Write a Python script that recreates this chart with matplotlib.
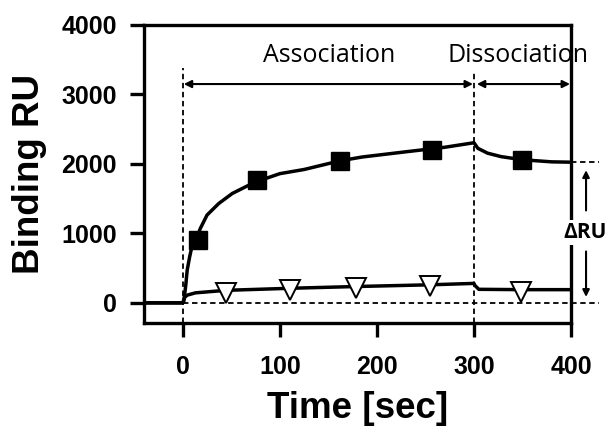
import matplotlib.pyplot as plt

# sensorgram traces (time in s, response in RU)
t_high = [-40, 0, 1, 3, 4.5, 7, 10, 15, 18, 25, 37, 51, 66, 77, 100, 125, 162, 185,
          230, 270, 300, 304, 314, 328, 350, 380, 400]
ru_high = [0, 0, 20, 250, 470, 660, 850, 960, 1070, 1265, 1430, 1575, 1680, 1750,
           1860, 1920, 2045, 2100, 2175, 2240, 2305, 2225, 2155, 2105, 2060, 2030, 2025]

t_low = [-40, 0, 1, 2, 4.5, 13, 44, 111, 178, 255, 300, 301, 305, 350, 400]
ru_low = [0, 0, 50, 80, 111, 144, 180, 210, 235, 260, 280, 250, 195, 190, 190]

# symbols placed on the traces
t_sq = [15.5, 76, 162, 257, 350]
ru_sq = [905, 1770, 2046, 2195, 2060]
t_tri = [45, 110, 178, 255, 348]
ru_tri = [145, 180, 215, 245, 150]

t_inject = 0
t_stop = 300
t_end = 400
ru_final = 2025

fig = plt.figure(figsize=(6.09, 4.34), dpi=100)
ax = fig.add_axes([144 / 609, 111 / 434, 427 / 609, 298 / 434])

bold = dict(family='Liberation Sans', weight='bold')
thin = dict(family='Open Sans')

ax.plot(t_high, ru_high, color='black', lw=2.5, zorder=4)
ax.plot(t_low, ru_low, color='black', lw=2.5, zorder=4)
ax.plot(t_sq, ru_sq, 's', color='black', ms=13.5, zorder=5)
ax.plot(t_tri, ru_tri, 'v', mfc='white', mec='black', mew=1.4, ms=15, zorder=5)

# injection / end markers and baselines
for tx, top in [(t_inject, 3380), (t_stop, 3340)]:
    ax.plot([tx, tx], [-290, top], color='black', lw=1.3, dashes=(3, 2), zorder=3)
ax.plot([0, 429], [0, 0], color='black', lw=1.3, dashes=(3, 2), clip_on=False, zorder=3)
ax.plot([t_end, 429], [ru_final, ru_final], color='black', lw=1.3, dashes=(3, 2),
        clip_on=False, zorder=3)

# phase arrows
arr = dict(arrowstyle='<|-|>', color='black', lw=1.5, mutation_scale=11,
           shrinkA=0, shrinkB=0)
ax.annotate('', xy=(t_inject + 1, 3150), xytext=(t_stop - 1, 3150), arrowprops=arr)
ax.annotate('', xy=(t_stop + 3, 3150), xytext=(t_end - 1, 3150), arrowprops=arr)
ax.text(151, 3560, 'Association', ha='center', va='center', fontsize=18, **thin)
ax.text(345, 3560, 'Dissociation', ha='center', va='center', fontsize=18, **thin)

# response difference at the end of dissociation
one = dict(arrowstyle='-|>', color='black', lw=1.5, mutation_scale=10,
           shrinkA=0, shrinkB=0)
ax.annotate('', xy=(415.5, 1910), xytext=(415.5, 1330), arrowprops=one,
            annotation_clip=False)
ax.annotate('', xy=(415.5, 85), xytext=(415.5, 740), arrowprops=one,
            annotation_clip=False)
ax.text(414.5, 1010, 'ΔRU', ha='center', va='center', fontsize=15, clip_on=False,
        family='Open Sans', weight='bold', zorder=6,
        bbox=dict(facecolor='white', edgecolor='none', pad=1.5))

ax.set_xlim(-40, 400)
ax.set_ylim(-290, 4000)
ax.set_xticks([0, 100, 200, 300, 400])
ax.set_yticks([0, 1000, 2000, 3000, 4000])
ax.tick_params(direction='out', length=10, width=2.4, labelsize=18)
ax.tick_params(axis='x', pad=13)
ax.tick_params(axis='y', pad=9.5)
for lab in ax.get_xticklabels() + ax.get_yticklabels():
    lab.set_fontfamily('Liberation Sans')
    lab.set_fontweight('bold')
for s in ax.spines.values():
    s.set_linewidth(2.4)

ax.set_xlabel('Time [sec]', fontsize=26.5, labelpad=9, **bold)
ax.set_ylabel('Binding RU', fontsize=26.5, labelpad=10, **bold)

fig.savefig('out.png', dpi=100)
